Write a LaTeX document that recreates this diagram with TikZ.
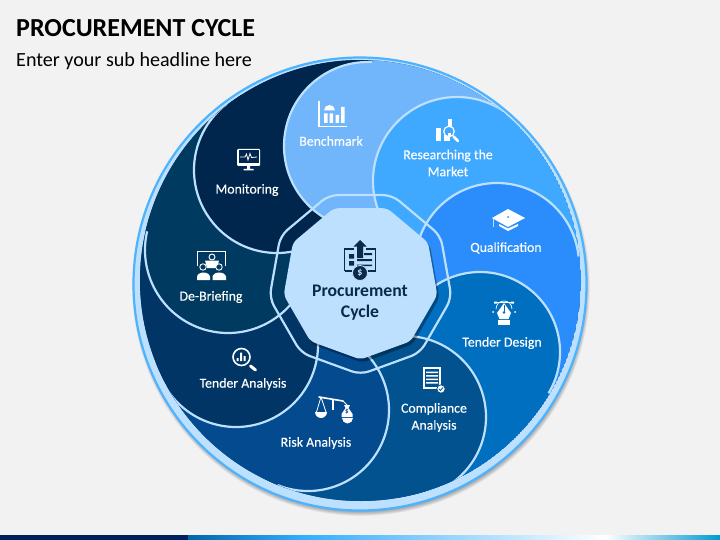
\documentclass[tikz,border=0pt]{standalone}
\usepackage{fontspec}
\setmainfont{Carlito}
\newfontfamily\labfont[FakeBold=0.25]{Carlito}
\usetikzlibrary{calc}
\definecolor{bgc}{HTML}{F2F2F2}
\definecolor{ringc}{HTML}{BDE0FF}
\definecolor{edgec}{HTML}{4DB3FF}
\definecolor{cBench}{HTML}{71B5FB}
\definecolor{cRes}{HTML}{3FA9FF}
\definecolor{cQual}{HTML}{2B8DFB}
\definecolor{cTD}{HTML}{006FC0}
\definecolor{cComp}{HTML}{02528F}
\definecolor{cRisk}{HTML}{034A8F}
\definecolor{cTA}{HTML}{003566}
\definecolor{cDB}{HTML}{003A60}
\definecolor{cMon}{HTML}{00264D}
\definecolor{inkc}{HTML}{0B2A4A}
\tikzset{
  lab/.style={text=white,font=\fontsize{13.8}{17}\selectfont\labfont,align=center,inner sep=0pt},
  outl/.style={draw=ringc,line width=2.2pt},
  ico/.style={fill=white,draw=none},
  icol/.style={draw=white,line width=1.4pt,fill=none},
  dk/.style={fill=inkc,draw=none},
  dkl/.style={draw=inkc,line width=1.4pt,fill=none}
}
% color, cx, cy, r, phi, phi next, next cx, next cy
\newcommand{\petalshape}[8]{
  \fill[#1] (#2,#3) circle (#4);
  \fill[#1] (#2,#3) -- (360.5,280.5) ++(#5:220.5) arc[start angle=#5,end angle=#6+4,radius=220.5] -- (#7,#8) -- cycle;
  \draw[outl] (#2,#3) ++(#5:#4) arc[start angle=#5,end angle=#5-220,radius=#4];
}
\begin{document}
\begin{tikzpicture}[x=1pt,y=-1pt]
\useasboundingbox (0,0) rectangle (720,540);
\fill[bgc] (0,0) rectangle (720,540);
% footer
\fill[left color=cTD!90!black,right color=cyan!60!blue!80!white] (188,535) rectangle (303,540);
\fill[left color=cyan!60!blue!80!white,right color=white] (303,535) rectangle (605,540);
\fill[left color=white,right color=cTD!70!cyan] (605,535) rectangle (720,540);
\fill[fill={rgb,255:red,0;green,32;blue,96}] (0,535) rectangle (188,540);
% title
\node[anchor=base west,inner sep=0pt,font=\fontsize{26}{30}\selectfont\bfseries,text=black] (title) at (16,37) {PROCUREMENT CYCLE};
\node[anchor=base west,inner sep=0pt,font=\fontsize{20.1}{24}\selectfont,text=black] (sub) at (16,67) {Enter your sub headline here};
% ring shadow
\foreach \i in {0,...,6}{\fill[black,opacity=.06] (361,287) circle ({224+\i*0.8});}
\draw[fill=ringc,draw=edgec,line width=2.2pt] (360,284) circle (226.5);
% petals
\begin{scope}
\clip (360.5,280.5) circle (220.5);
\fill[cComp] (360.5,280.5) circle (220.5);
\petalshape{cBench}{368}{146}{84}{-87}{-46}{457}{180}
\petalshape{cRes}{457}{181}{84}{-46}{-6}{497}{265}
\petalshape{cQual}{497}{265}{82}{-6}{31}{480}{352}
\petalshape{cTD}{480}{352}{80}{31}{72}{405}{417}
\petalshape{cComp}{405}{417}{81}{72}{112}{308}{410}
\petalshape{cRisk}{308}{410}{81}{112}{153}{236}{345}
\petalshape{cTA}{236}{345}{82}{153}{193}{228}{250}
\petalshape{cDB}{228}{250}{83}{193}{233}{277}{170}
\petalshape{cMon}{277}{170}{83}{233}{268}{368}{146}
\begin{scope}
\clip (0,0) rectangle (371,540);
\fill[cBench] (368,146) circle (84);
\draw[outl] (368,146) ++(-87:84) arc[start angle=-87,end angle=-307,radius=84];
\end{scope}
\end{scope}
\foreach \k in {0,...,8}{
  \coordinate (o\k) at ($(360.5,282)+({90+40*\k}:92.5)$);
  \coordinate (n\k) at ($(360.5,281.5)+({90+40*\k}:78)$);
  \coordinate (s\k) at ($(362.5,284.5)+({90+40*\k}:78)$);
}
\draw[ringc,line width=2.2pt,rounded corners=9pt] (o0)--(o1)--(o2)--(o3)--(o4)--(o5)--(o6)--(o7)--(o8)--cycle;
\foreach \w in {0,1.5,3}{
\fill[black,opacity=.13,rounded corners=5pt] (s0)--(s1)--(s2)--(s3)--(s4)--(s5)--(s6)--(s7)--(s8)--cycle;}
\fill[ringc,rounded corners=5pt] (n0)--(n1)--(n2)--(n3)--(n4)--(n5)--(n6)--(n7)--(n8)--cycle;
% labels
\node[lab] (bench) at (331,141) {Benchmark};
\node[lab] (res) at (448,163) {Researching the\\Market};
\node[lab] (qual) at (506,248) {Qualification};
\node[lab] (td) at (502,343) {Tender Design};
\node[lab] (comp) at (434,417.5) {Compliance\\Analysis};
\node[lab] (risk) at (316,443) {Risk Analysis};
\node[lab] (ta) at (243,384) {Tender Analysis};
\node[lab] (db) at (211,297) {De-Briefing};
\node[lab] (mon) at (247,190) {Monitoring};
\node[text=inkc,font=\fontsize{17.7}{21}\selectfont\bfseries,align=center,inner sep=0pt] (center) at (360,303) {Procurement\\Cycle};
% Benchmark icon
\draw[icol] (319,101) -- (319,126.5) -- (347,126.5);
\fill[ico] (324,110.5) arc[start angle=180,end angle=360,radius=5.5] -- cycle;
\fill[ico] (324,113.5) rectangle (327.5,123) (329.5,113.5) rectangle (333,123) (335.5,115) rectangle (339,123) (341,107) rectangle (344.5,123);
% Monitoring icon
\fill[ico,rounded corners=1pt] (237,149) rectangle (260,166);
\fill[cMon] (238.5,150.5) rectangle (258.5,163);
\draw[white,line width=.8pt] (240,157) -- (245,157) -- (246.5,154) -- (248,160) -- (250,153.5) -- (251.5,157.5) -- (257,157);
\fill[ico] (247,166) rectangle (250,169) (243.5,169) rectangle (253.5,170.5);
% De-Briefing icon
\draw[white,line width=.7pt] (197.5,266) -- (197.5,251.5) -- (225.5,251.5) -- (225.5,266);
\draw[icol,line width=.9pt] (212,257) circle (3);
\fill[ico] (205,260.5) -- (219,260.5) -- (217,268) -- (207,268) -- cycle;
\draw[icol,line width=.9pt,fill=cDB] (203,267) circle (3.2) (219,267) circle (3.2);
\fill[ico] (197,280) -- (197,277) arc[start angle=180,end angle=360,x radius=6.5,y radius=4.5] -- (210,280) -- cycle;
\fill[ico] (212.5,280) -- (212.5,277) arc[start angle=180,end angle=360,x radius=6.75,y radius=4.5] -- (226,280) -- cycle;
% Tender Analysis icon
\draw[icol,line width=1.6pt] (241.5,357) circle (8.5);
\fill[ico] (236.5,361) rectangle (238.5,358) (240,361) rectangle (242,352.5) (243.5,361) rectangle (245.5,356);
\draw[white,line width=3pt,line cap=round] (250.5,366) -- (255.5,370);
% Risk icon
\draw[white,line width=1.6pt,line cap=round] (319,397) -- (343,401);
\draw[white,line width=1.6pt] (333,399) -- (333,410);
\draw[white,line width=.8pt] (321,397) -- (316.5,412) (321,397) -- (326,412);
\fill[ico] (315,412) -- (327,412) arc[start angle=0,end angle=180,radius=6] -- cycle;
\draw[white,line width=.8pt] (343,401) -- (347,405);
\fill[ico] (344,405) -- (350,405) -- (348.5,408) -- (352.5,414) -- (352.5,417) -- (341.5,417) -- (341.5,414) -- (345.5,408) -- cycle;
\node[inner sep=0pt,text=cRisk,font=\fontsize{7}{7}\selectfont\bfseries] (riskd) at (347,412) {\$};
\fill[ico] (342,418) -- (353,418) arc[start angle=0,end angle=180,radius=5.5] -- cycle;
% Compliance icon
\fill[ico] (423,367) rectangle (441,389);
\fill[cComp] (425,369) rectangle (439,387);
\fill[ico] (426,371.5) rectangle (438,373) (426,375) rectangle (438,376.5) (426,378.5) rectangle (438,380) (426,382) rectangle (438,383.5);
\fill[ico,draw=cComp,line width=.8pt] (441,389) circle (4.2);
\draw[cComp,line width=.8pt] (439,389) -- (440.5,390.5) -- (443,387.5);
% Tender Design icon
\draw[white,line width=.7pt] (496,309) arc[start angle=180,end angle=360,radius=8];
\fill[ico] (494,301.5) rectangle (497,303.5) (511,301.5) rectangle (514,303.5);
\draw[white,line width=.7pt] (496,302.5) -- (512,302.5);
\fill[ico] (504,303) -- (511,313) -- (508.5,319) -- (499.5,319) -- (497,313) -- cycle;
\draw[cTD,line width=.7pt] (504,305) -- (504,312);
\fill[cTD] (504,312.5) circle (1.3);
\fill[ico] (498,320) rectangle (510,325);
\fill[ico] (493,312) circle (1) (515,312) circle (1);
% Qualification icon
\fill[ico] (508,209) -- (525,218) -- (508,227) -- (492,218) -- cycle;
\fill[ico] (499,224) -- (508,228.5) -- (518,224) -- (518,226) -- (508,231) -- (499,226) -- cycle;
\draw[white,line width=.8pt,opacity=.7] (493,218) -- (493,227.5);
\fill[cQual] (508,217) circle (1);
% Researching icon
\fill[ico] (436,128) rectangle (441,141);
\fill[ico] (448,119) rectangle (452,127);
\fill[ico] (444,135) rectangle (450,141);
\draw[icol,line width=1.2pt,fill=cRes] (449,131.5) circle (5.3);
\fill[ico] (447.5,133) rectangle (450.5,136);
\draw[white,line width=2.5pt,line cap=round] (453.5,136.5) -- (458,141);
% Center icon
\draw[dkl,line width=1.2pt] (344.5,271) -- (344.5,249) -- (354,249) (366,249) -- (375.5,249) -- (375.5,271) -- (368,271) (352,271) -- (344.5,271);
\fill[dk] (360,240) -- (366.5,246.5) -- (363,246.5) -- (363,258) -- (357,258) -- (357,246.5) -- (353.5,246.5) -- cycle;
\fill[dk] (349,254) rectangle (354,258.5) (349,261) rectangle (354,265.5);
\fill[dk] (364,253) rectangle (372,255) (357,259) rectangle (372,261) (357,264.5) rectangle (372,266);
\fill[dk,draw=ringc,line width=.8pt] (360,273) circle (7.5);
\node[inner sep=0pt,text=ringc,font=\fontsize{10}{10}\selectfont\bfseries] (centerd) at (360,273) {\$};
\end{tikzpicture}
\end{document}
